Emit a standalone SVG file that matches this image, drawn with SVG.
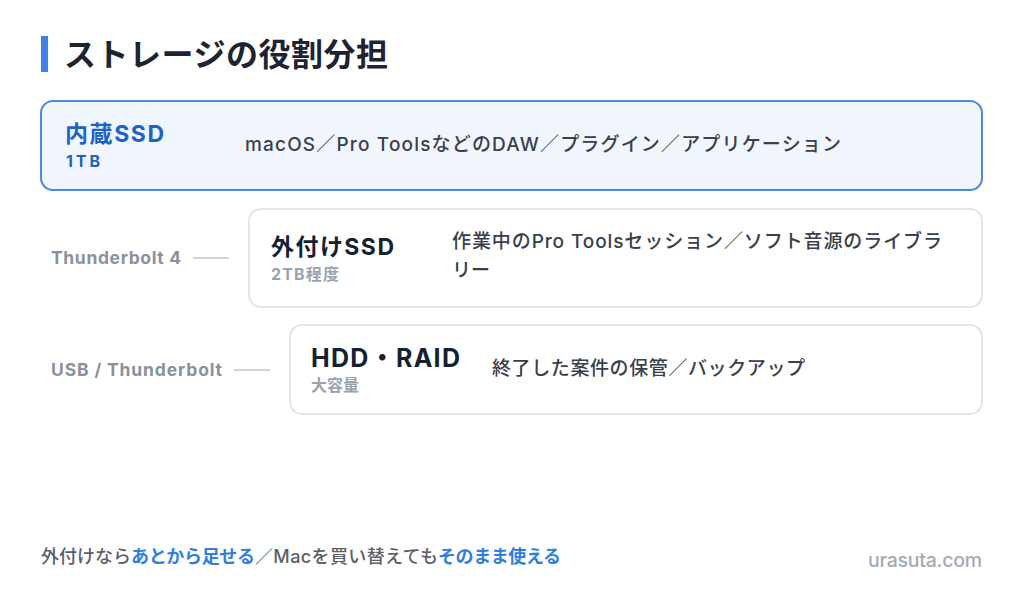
<svg xmlns="http://www.w3.org/2000/svg" width="1024" height="597" viewBox="0 0 1024 597">
<style>
text{font-family:Inter,"Noto Sans CJK JP",sans-serif}
.title{font-size:32px;font-weight:700;fill:#1d2330}
.card{fill:#ffffff;stroke:#e1e6eb;stroke-width:2}
.card-main{fill:#f1f6fd;stroke:#4a8ae0;stroke-width:2}
.name{font-size:23px;font-weight:700;fill:#152033}
.name-main{fill:#1e62c8}
.sub{font-size:16px;font-weight:700;fill:#9ca3ad}
.sub-main{fill:#1e62c8}
.desc{font-size:19px;font-weight:500;fill:#3a404b}
.iface{font-size:17.5px;font-weight:700;fill:#8a919c}
.conn{stroke:#cdd4dd;stroke-width:2}
.foot{font-size:18px;font-weight:500;fill:#5a606a}
.em{font-weight:700;fill:#2f7fe2}
.brand{font-size:19.5px;font-weight:500;fill:#a4aab3}
</style>
<rect width="1024" height="597" fill="#ffffff"/>
<g id="title">
<rect x="41" y="36" width="7" height="36" fill="#3b82f0"/>
<text class="title" x="64" y="66" textLength="324" lengthAdjust="spacing">ストレージの役割分担</text>
</g>
<g id="connectors">
<line class="conn" x1="193" y1="258" x2="229" y2="258"/>
<line class="conn" x1="234" y1="370" x2="270" y2="370"/>
</g>
<g id="internal-ssd">
<rect class="card-main" x="41" y="101" width="941" height="89" rx="12"/>
<text class="name name-main" x="65" y="142" textLength="99" lengthAdjust="spacing">内蔵SSD</text>
<text class="sub sub-main" x="66" y="167" textLength="34" lengthAdjust="spacing">1TB</text>
<text class="desc" x="245" y="151" textLength="596" lengthAdjust="spacing">macOS／Pro ToolsなどのDAW／プラグイン／アプリケーション</text>
</g>
<g id="external-ssd">
<text class="iface" x="51" y="264" textLength="130" lengthAdjust="spacing">Thunderbolt 4</text>
<rect class="card" x="249" y="209" width="733" height="98" rx="12"/>
<text class="name" x="271" y="255" textLength="123" lengthAdjust="spacing">外付けSSD</text>
<text class="sub" x="271" y="280" textLength="68" lengthAdjust="spacing">2TB程度</text>
<text class="desc" x="452" y="248" textLength="490" lengthAdjust="spacing">作業中のPro Toolsセッション／ソフト音源のライブラ</text>
<text class="desc" x="452" y="277" textLength="38" lengthAdjust="spacing">リー</text>
</g>
<g id="hdd-raid">
<text class="iface" x="51" y="376" textLength="171" lengthAdjust="spacing">USB / Thunderbolt</text>
<rect class="card" x="290" y="325" width="692" height="89" rx="12"/>
<text class="name" x="311" y="367" style="font-size:25px" textLength="149" lengthAdjust="spacing">HDD・RAID</text>
<text class="sub" x="311" y="391" textLength="48" lengthAdjust="spacing">大容量</text>
<text class="desc" x="492" y="375" textLength="313" lengthAdjust="spacing">終了した案件の保管／バックアップ</text>
</g>
<g id="footer">
<text class="foot" x="41" y="563" textLength="90" lengthAdjust="spacing">外付けなら</text>
<text class="foot em" x="131" y="563" textLength="124" lengthAdjust="spacing">あとから足せる</text>
<text class="foot" x="255" y="563" textLength="183" lengthAdjust="spacing">／Macを買い替えても</text>
<text class="foot em" x="438" y="563" textLength="123" lengthAdjust="spacing">そのまま使える</text>
<text class="brand" x="982" y="567" text-anchor="end" textLength="114" lengthAdjust="spacing">urasuta.com</text>
</g>
</svg>
